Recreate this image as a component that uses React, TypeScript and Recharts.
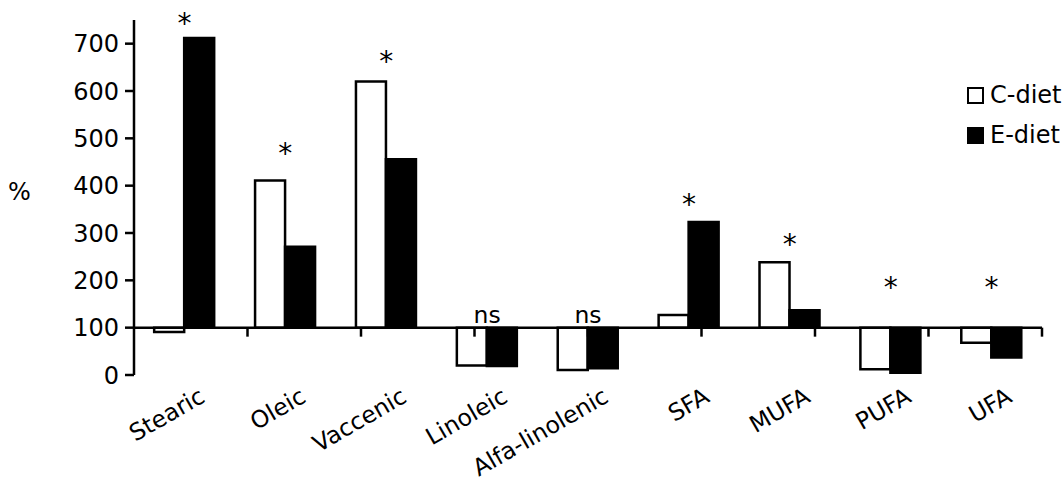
import React from 'react';
import {
  ComposedChart,
  Bar,
  XAxis,
  YAxis,
  ReferenceLine,
  ReferenceDot,
  Legend,
} from 'recharts';

// ---- data ----
const categories = ['Stearic', 'Oleic', 'Vaccenic', 'Linoleic', 'Alfa-linolenic', 'SFA', 'MUFA', 'PUFA', 'UFA'];
const cDiet = [91, 411, 620, 20, 10.5, 127, 238, 12, 68];
const eDiet = [712, 271, 456, 19, 14, 323.5, 137, 5, 37];
const sigText = ['*', '*', '*', 'ns', 'ns', '*', '*', '*', '*'];
const sigLevel = [755, 480, 673, 124.5, 124.5, 371, 287, 196, 196];
const yTicks = [0, 100, 200, 300, 400, 500, 600, 700];
const baseline = 100;
const boundaries = [1, 2, 3, 4, 5, 6, 7, 8, 9];

const data = categories.map((name, i) => ({
  name,
  c: [baseline, cDiet[i]],
  e: [baseline, eDiet[i]],
}));

const FONT = 'DejaVu Sans, Verdana, sans-serif';
const TICK_DEPTH = 19; // tick mark depth below baseline, in value units

const XTick = (props: any) => {
  const { x, y, payload } = props;
  const ax = x + 22;
  const ay = y + 26;
  return (
    <text
      x={ax}
      y={ay}
      transform={`rotate(-30, ${ax}, ${ay})`}
      textAnchor="end"
      fontSize={23.5}
      fontFamily={FONT}
      fill="#000"
    >
      {payload.value}
    </text>
  );
};

const makeSigLabel = (txt: string) => (props: any) => {
  const { viewBox } = props;
  const cx = viewBox.x + (viewBox.width || 0) / 2;
  const cy = viewBox.y + (viewBox.height || 0) / 2;
  const isStar = txt === '*';
  return (
    <text
      x={cx}
      y={cy + (isStar ? 15 : 7)}
      textAnchor="middle"
      fontSize={isStar ? 28 : 23.5}
      fontFamily={FONT}
      fill="#000"
    >
      {txt}
    </text>
  );
};

const LegendContent = (props: any) => {
  const { payload } = props;
  const items = (payload || []).filter((e: any) => e.value === 'C-diet' || e.value === 'E-diet');
  return (
    <div style={{ fontFamily: FONT, fontSize: 24, color: '#000', whiteSpace: 'nowrap', width: 96 }}>
      {items.map((entry: any) => (
        <div key={entry.value} style={{ display: 'flex', alignItems: 'center', height: 40, whiteSpace: 'nowrap' }}>
          <span
            style={{
              display: 'inline-block',
              flex: '0 0 auto',
              width: 17,
              height: 17,
              boxSizing: 'border-box',
              border: '2px solid #000',
              background: entry.color,
              marginRight: 6,
            }}
          />
          <span style={{ whiteSpace: 'nowrap' }}>{entry.value}</span>
        </div>
      ))}
    </div>
  );
};

const PercentLabel = (props: any) => {
  const { viewBox } = props;
  return (
    <text
      x={viewBox.x}
      y={viewBox.y + viewBox.height / 2 + 2}
      fontSize={24}
      fontFamily={FONT}
      fill="#000"
    >
      %
    </text>
  );
};

export default function App() {
  return (
    <div style={{ fontFamily: FONT }}>
      <style>{`html, body { margin: 0; padding: 0; overflow: hidden; }`}</style>
      <ComposedChart
        width={1064}
        height={477}
        data={data}
        margin={{ top: 20, right: 22, left: 8, bottom: 0 }}
        barGap={0}
        barCategoryGap="20%"
      >
        <XAxis
          dataKey="name"
          axisLine={false}
          tickLine={false}
          tickSize={0}
          tickMargin={0}
          interval={0}
          height={102}
          tick={<XTick />}
        />
        <XAxis xAxisId="num" type="number" domain={[0, 9]} hide />
        <YAxis
          domain={[0, 750]}
          ticks={yTicks}
          allowDataOverflow
          width={126}
          tickSize={9}
          tickMargin={6}
          axisLine={{ stroke: '#000', strokeWidth: 2.5 }}
          tickLine={{ stroke: '#000', strokeWidth: 2.5 }}
          tick={{ fontSize: 24, fill: '#000', fontFamily: FONT }}
          label={<PercentLabel />}
        />
        <Legend
          layout="horizontal"
          verticalAlign="middle"
          align="center"
          content={<LegendContent />}
          wrapperStyle={{ left: 967, top: 75, width: 96 }}
        />
        <Bar
          dataKey="c"
          name="C-diet"
          fill="#fff"
          stroke="#000"
          strokeWidth={2.5}
          isAnimationActive={false}
        />
        <Bar
          dataKey="e"
          name="E-diet"
          fill="#000"
          stroke="#000"
          strokeWidth={2.5}
          isAnimationActive={false}
        />
        <ReferenceLine y={baseline} stroke="#000" strokeWidth={2.5} />
        {boundaries.map((b) => (
          <ReferenceLine
            key={b}
            xAxisId="num"
            segment={[
              { x: b, y: baseline },
              { x: b, y: baseline - TICK_DEPTH },
            ]}
            stroke="#000"
            strokeWidth={2.5}
          />
        ))}
        {categories.map((name, i) => (
          <ReferenceDot
            key={name}
            x={name}
            y={sigLevel[i]}
            r={0}
            fill="none"
            stroke="none"
            ifOverflow="visible"
            label={makeSigLabel(sigText[i])}
          />
        ))}
      </ComposedChart>
    </div>
  );
}
